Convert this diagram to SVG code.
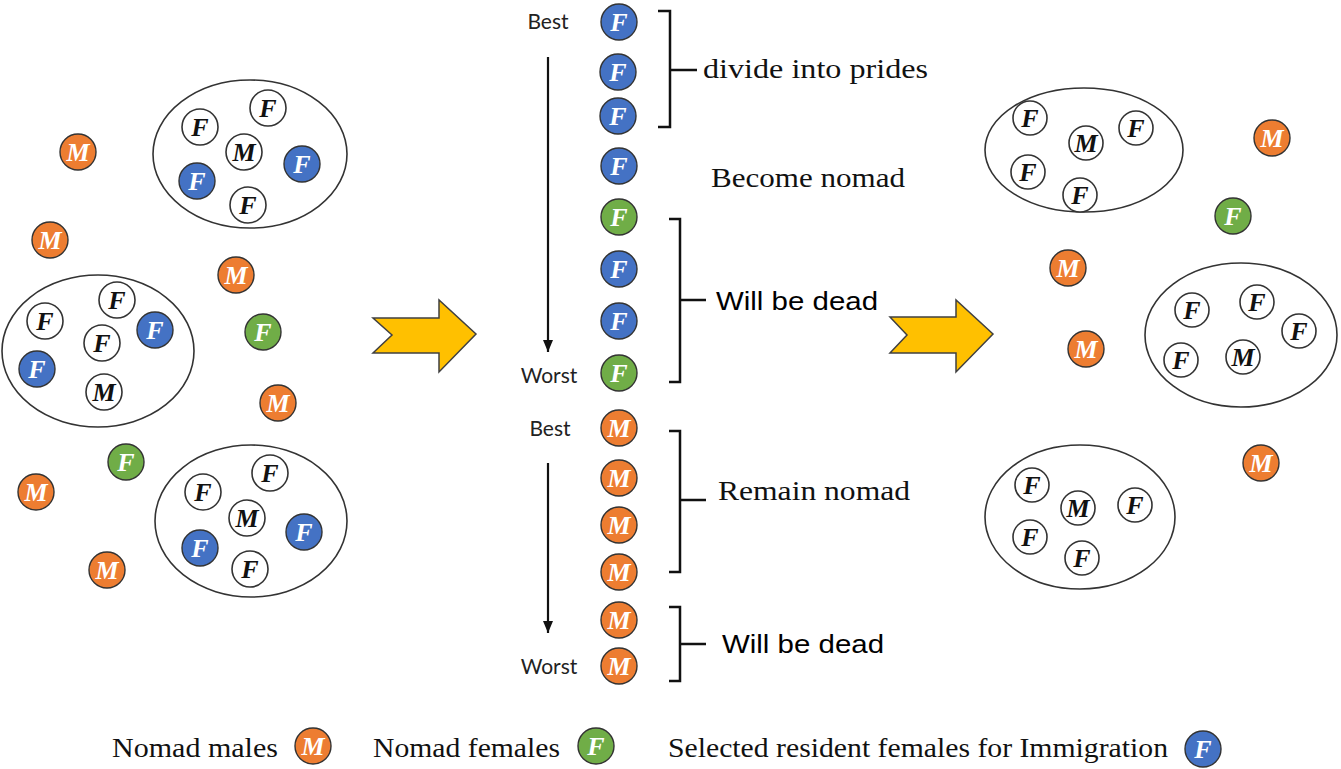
<svg xmlns="http://www.w3.org/2000/svg" width="1341" height="769" viewBox="0 0 1341 769">
<style>
.bg{fill:#ffffff}
.pride{fill:none;stroke:#333;stroke-width:1.6}
.w{fill:#fff;stroke:#333;stroke-width:1.6}
.o{fill:#ED7D31;stroke:#333;stroke-width:1.4}
.g{fill:#70AD47;stroke:#333;stroke-width:1.4}
.b{fill:#4472C4;stroke:#333;stroke-width:1.4}
.lt{font-family:"Liberation Serif","DejaVu Serif",serif;font-weight:bold;font-style:italic;font-size:26px;text-anchor:middle}
.lb{fill:#111}
.lw{fill:#fff}
.sans{font-family:Lato,"Open Sans",sans-serif;font-size:21px;fill:#222;text-anchor:middle}
.serif{font-family:"Liberation Serif","DejaVu Serif",serif;font-size:28px;fill:#111}
.arial{font-family:"Liberation Sans",Arial,sans-serif;font-size:26px;fill:#000}
.br{fill:none;stroke:#111;stroke-width:2.5}
.ln{stroke:#111;stroke-width:2.2;fill:none}
.ya{fill:#FFC000;stroke:#404040;stroke-width:1.5;stroke-linejoin:miter}
</style>
<defs>
<marker id="ah" markerWidth="12" markerHeight="10" refX="12" refY="5" orient="auto" markerUnits="userSpaceOnUse" viewBox="0 0 12 10">
<path d="M0,0 L12,5 L0,10 z" fill="#111"/>
</marker>
</defs>
<rect class="bg" x="0" y="0" width="1341" height="769"/>

<!-- Left prides -->
<g id="pride-left-top">
<ellipse class="pride" cx="250" cy="154" rx="97" ry="74"/>
<circle class="w" cx="200" cy="127" r="18"/><text class="lt lb" x="200" y="136">F</text>
<circle class="w" cx="268" cy="108" r="18"/><text class="lt lb" x="268" y="117">F</text>
<circle class="w" cx="244" cy="152" r="18"/><text class="lt lb" x="244" y="161">M</text>
<circle class="b" cx="197" cy="181" r="18"/><text class="lt lw" x="197" y="190">F</text>
<circle class="b" cx="302" cy="164" r="18"/><text class="lt lw" x="302" y="173">F</text>
<circle class="w" cx="248" cy="205" r="18"/><text class="lt lb" x="248" y="214">F</text>
</g>
<g id="pride-left-mid">
<ellipse class="pride" cx="98" cy="351" rx="96" ry="76"/>
<circle class="w" cx="45" cy="321" r="18"/><text class="lt lb" x="45" y="330">F</text>
<circle class="w" cx="117" cy="300" r="18"/><text class="lt lb" x="117" y="309">F</text>
<circle class="w" cx="102" cy="343" r="18"/><text class="lt lb" x="102" y="352">F</text>
<circle class="b" cx="155" cy="330" r="18"/><text class="lt lw" x="155" y="339">F</text>
<circle class="b" cx="37" cy="369" r="18"/><text class="lt lw" x="37" y="378">F</text>
<circle class="w" cx="104" cy="392" r="18"/><text class="lt lb" x="104" y="401">M</text>
</g>
<g id="pride-left-bot">
<ellipse class="pride" cx="251" cy="521" rx="96" ry="76"/>
<circle class="w" cx="203" cy="492" r="18"/><text class="lt lb" x="203" y="501">F</text>
<circle class="w" cx="270" cy="473" r="18"/><text class="lt lb" x="270" y="482">F</text>
<circle class="w" cx="247" cy="518" r="18"/><text class="lt lb" x="247" y="527">M</text>
<circle class="b" cx="200" cy="548" r="18"/><text class="lt lw" x="200" y="557">F</text>
<circle class="b" cx="304" cy="532" r="18"/><text class="lt lw" x="304" y="541">F</text>
<circle class="w" cx="250" cy="569" r="18"/><text class="lt lb" x="250" y="578">F</text>
</g>
<!-- Left nomads -->
<g id="nomads-left">
<circle class="o" cx="78" cy="152" r="18"/><text class="lt lw" x="78" y="161">M</text>
<circle class="o" cx="50" cy="240" r="18"/><text class="lt lw" x="50" y="249">M</text>
<circle class="o" cx="236" cy="275" r="18"/><text class="lt lw" x="236" y="284">M</text>
<circle class="g" cx="263" cy="332" r="18"/><text class="lt lw" x="263" y="341">F</text>
<circle class="o" cx="278" cy="403" r="18"/><text class="lt lw" x="278" y="412">M</text>
<circle class="g" cx="126" cy="462" r="18"/><text class="lt lw" x="126" y="471">F</text>
<circle class="o" cx="36" cy="492" r="18"/><text class="lt lw" x="36" y="501">M</text>
<circle class="o" cx="107" cy="570" r="18"/><text class="lt lw" x="107" y="579">M</text>
</g>

<!-- Yellow arrows -->
<g id="arrow1"><path class="ya" d="M373,318 L439,318 L439,300 L476,334 L439,372 L439,353 L373,353 L392,335 Z"/></g>
<g id="arrow2"><path class="ya" d="M890,317 L956,317 L956,300 L993,334 L956,372 L956,353 L890,353 L907,335 Z"/></g>

<!-- Ranked column -->
<g id="ranked-females">
<circle class="b" cx="619" cy="22" r="18"/><text class="lt lw" x="619" y="31">F</text>
<circle class="b" cx="618" cy="72" r="18"/><text class="lt lw" x="618" y="81">F</text>
<circle class="b" cx="618" cy="116" r="18"/><text class="lt lw" x="618" y="125">F</text>
<circle class="b" cx="619" cy="166" r="18"/><text class="lt lw" x="619" y="175">F</text>
<circle class="g" cx="619" cy="217" r="18"/><text class="lt lw" x="619" y="226">F</text>
<circle class="b" cx="619" cy="269" r="18"/><text class="lt lw" x="619" y="278">F</text>
<circle class="b" cx="619" cy="321" r="18"/><text class="lt lw" x="619" y="330">F</text>
<circle class="g" cx="619" cy="373" r="18"/><text class="lt lw" x="619" y="382">F</text>
</g>
<g id="ranked-males">
<circle class="o" cx="619" cy="428" r="18"/><text class="lt lw" x="619" y="437">M</text>
<circle class="o" cx="619" cy="478" r="18"/><text class="lt lw" x="619" y="487">M</text>
<circle class="o" cx="619" cy="525" r="18"/><text class="lt lw" x="619" y="534">M</text>
<circle class="o" cx="619" cy="572" r="18"/><text class="lt lw" x="619" y="581">M</text>
<circle class="o" cx="619" cy="620" r="18"/><text class="lt lw" x="619" y="629">M</text>
<circle class="o" cx="619" cy="666" r="18"/><text class="lt lw" x="619" y="675">M</text>
</g>
<g id="rank-labels">
<text class="sans" x="548" y="29">Best</text>
<text class="sans" x="549" y="383">Worst</text>
<text class="sans" x="550" y="436">Best</text>
<text class="sans" x="549" y="674">Worst</text>
</g>

<!-- Connectors -->
<g id="connectors">
<line class="ln" x1="548" y1="57" x2="548" y2="352" marker-end="url(#ah)"/>
<line class="ln" x1="548" y1="463" x2="548" y2="633" marker-end="url(#ah)"/>
<path class="br" d="M658,11 L670,11 L670,127 L658,127 M670,70 L697,70"/>
<path class="br" d="M669,219 L680,219 L680,382 L669,382 M680,300 L706,300"/>
<path class="br" d="M669,431 L680,431 L680,572 L669,572 M680,500 L706,500"/>
<path class="br" d="M669,607 L680,607 L680,681 L669,681 M680,644 L706,644"/>
</g>
<g id="bracket-labels">
<text class="serif" x="703" y="78" textLength="225" lengthAdjust="spacingAndGlyphs">divide into prides</text>
<text class="serif" x="711" y="187" textLength="194" lengthAdjust="spacingAndGlyphs">Become nomad</text>
<text class="arial" x="716" y="310" textLength="162" lengthAdjust="spacingAndGlyphs">Will be dead</text>
<text class="serif" x="718" y="500" textLength="192" lengthAdjust="spacingAndGlyphs">Remain nomad</text>
<text class="arial" x="722" y="653" textLength="162" lengthAdjust="spacingAndGlyphs">Will be dead</text>
</g>

<!-- Right prides -->
<g id="pride-right-top">
<ellipse class="pride" cx="1084" cy="150" rx="99" ry="62"/>
<circle class="w" cx="1030" cy="118" r="17"/><text class="lt lb" x="1030" y="127">F</text>
<circle class="w" cx="1086" cy="143" r="17"/><text class="lt lb" x="1086" y="152">M</text>
<circle class="w" cx="1136" cy="128" r="17"/><text class="lt lb" x="1136" y="137">F</text>
<circle class="w" cx="1028" cy="172" r="17"/><text class="lt lb" x="1028" y="181">F</text>
<circle class="w" cx="1080" cy="195" r="17"/><text class="lt lb" x="1080" y="204">F</text>
</g>
<g id="pride-right-mid">
<ellipse class="pride" cx="1241" cy="335" rx="96" ry="72"/>
<circle class="w" cx="1192" cy="310" r="17"/><text class="lt lb" x="1192" y="319">F</text>
<circle class="w" cx="1257" cy="302" r="17"/><text class="lt lb" x="1257" y="311">F</text>
<circle class="w" cx="1299" cy="331" r="17"/><text class="lt lb" x="1299" y="340">F</text>
<circle class="w" cx="1181" cy="360" r="17"/><text class="lt lb" x="1181" y="369">F</text>
<circle class="w" cx="1243" cy="357" r="17"/><text class="lt lb" x="1243" y="366">M</text>
</g>
<g id="pride-right-bot">
<ellipse class="pride" cx="1080" cy="517" rx="95" ry="72"/>
<circle class="w" cx="1032" cy="485" r="17"/><text class="lt lb" x="1032" y="494">F</text>
<circle class="w" cx="1078" cy="508" r="17"/><text class="lt lb" x="1078" y="517">M</text>
<circle class="w" cx="1135" cy="505" r="17"/><text class="lt lb" x="1135" y="514">F</text>
<circle class="w" cx="1030" cy="537" r="17"/><text class="lt lb" x="1030" y="546">F</text>
<circle class="w" cx="1082" cy="558" r="17"/><text class="lt lb" x="1082" y="567">F</text>
</g>
<g id="nomads-right">
<circle class="o" cx="1272" cy="138" r="18"/><text class="lt lw" x="1272" y="147">M</text>
<circle class="g" cx="1233" cy="216" r="18"/><text class="lt lw" x="1233" y="225">F</text>
<circle class="o" cx="1068" cy="268" r="18"/><text class="lt lw" x="1068" y="277">M</text>
<circle class="o" cx="1086" cy="349" r="18"/><text class="lt lw" x="1086" y="358">M</text>
<circle class="o" cx="1261" cy="463" r="18"/><text class="lt lw" x="1261" y="472">M</text>
</g>

<!-- Legend -->
<g id="legend">
<text class="serif" x="112" y="757" textLength="166" lengthAdjust="spacingAndGlyphs">Nomad males</text>
<circle class="o" cx="313" cy="746" r="18"/><text class="lt lw" x="313" y="755">M</text>
<text class="serif" x="373" y="757" textLength="187" lengthAdjust="spacingAndGlyphs">Nomad females</text>
<circle class="g" cx="596" cy="746" r="18"/><text class="lt lw" x="596" y="755">F</text>
<text class="serif" x="668" y="757" textLength="500" lengthAdjust="spacingAndGlyphs">Selected resident females for Immigration</text>
<circle class="b" cx="1203" cy="749" r="18"/><text class="lt lw" x="1203" y="758">F</text>
</g>
</svg>
